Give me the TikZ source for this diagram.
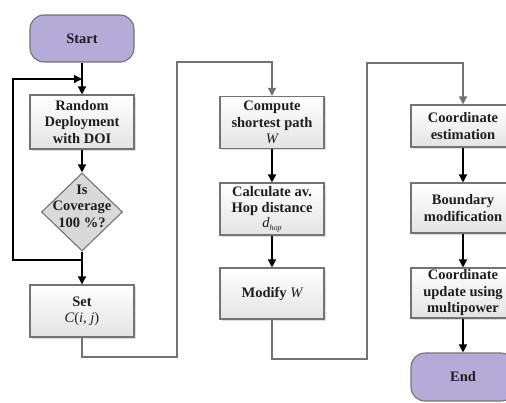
\documentclass[tikz,border=0pt]{standalone}
\usepackage{fontspec}
\setmainfont{Liberation Serif}
\usetikzlibrary{arrows.meta,shapes.geometric,shadows}
\definecolor{term}{HTML}{B5ABD8}
\definecolor{edge}{HTML}{737373}
\definecolor{ink}{HTML}{1E1E1E}
\begin{document}
\begin{tikzpicture}[x=1pt,y=-1pt,
  txt/.style={font=\fontsize{14.5}{16.5}\selectfont\bfseries, text=ink, align=center},
  procbox/.style={txt, draw=edge, line width=1.1pt, rectangle, top color=white, bottom color=gray!22,
    minimum width=104pt, inner sep=0pt, drop shadow={opacity=0.25, shadow xshift=1.5pt, shadow yshift=-1.5pt}},
  termbox/.style={txt, draw=edge, line width=1.1pt, rounded corners=14pt, fill=term,
    minimum width=104pt, inner sep=0pt},
  decbox/.style={draw=edge, line width=1.1pt, diamond, fill=gray!30, inner sep=0pt,
    minimum width=81pt, minimum height=78pt},
  flow/.style={draw=black, line width=1.4pt, -{Triangle[length=8pt,width=8pt]}},
  link/.style={draw=edge, line width=1.3pt, -{Triangle[length=8pt,width=8pt]}},
  math/.style={font=\fontsize{14.5}{16.5}\selectfont\mdseries\itshape}
]
\useasboundingbox (0,0) rectangle (506,402);
\clip (0,0) rectangle (506,402);

% left column
\node[termbox, minimum height=47pt] (start) at (82,38.5) {Start};
\node[procbox, minimum height=54pt] (rand) at (82,122) {Random\\Deployment\\with DOI};
\node[decbox] (dia) at (82,212) {};
\node[txt] (diatxt) at (82,206) {Is\\Coverage\\100 \%?};
\node[procbox, minimum height=52pt] (set) at (82,311) {Set\\{\mdseries\itshape C}{\mdseries(}{\mdseries\itshape i}{\mdseries, }{\mdseries\itshape j}{\mdseries)}};

% middle column
\node[procbox, minimum height=52pt] (comp) at (272,122.5) {Compute\\shortest path\\{\mdseries\itshape W}};
\node[procbox, minimum height=52pt] (calc) at (272,209) {Calculate av.\\Hop distance\\[-2pt]{\mdseries\itshape d}\raisebox{-3pt}{\mdseries\itshape\fontsize{8}{8}\selectfont hop}};
\node[procbox, minimum height=51pt] (mod) at (272,293.5) {Modify {\mdseries\itshape W}};

% right column
\node[procbox, minimum height=42pt] (est) at (463,126) {Coordinate\\estimation};
\node[procbox, minimum height=50pt] (bnd) at (463,208) {Boundary\\modification};
\node[procbox, minimum height=50pt] (upd) at (463,293) {Coordinate\\update using\\multipower};
\node[termbox, minimum height=48pt] (end) at (463,377) {End};

% helper coordinates
\coordinate (j1) at (82,260);
\coordinate (j2) at (82,79);
\coordinate (a1) at (177,357);
\coordinate (a2) at (177,62);
\coordinate (b1) at (367,359);
\coordinate (b2) at (367,63);

% connectors
\draw[flow] (start) -- (rand);
\draw[flow] (rand) -- (dia);
\draw[flow] (dia) -- (set);
\draw[flow] (dia.south) -- (j1) -| (13,79) -- (j2);
\draw[link] (set.south) |- (a1) -- (a2) -| (comp.north);
\draw[flow] (comp) -- (calc);
\draw[flow] (calc) -- (mod);
\draw[link] (mod.south) |- (b1) -- (b2) -| (est.north);
\draw[flow] (est) -- (bnd);
\draw[flow] (bnd) -- (upd);
\draw[flow] (upd) -- (end);
\end{tikzpicture}
\end{document}
